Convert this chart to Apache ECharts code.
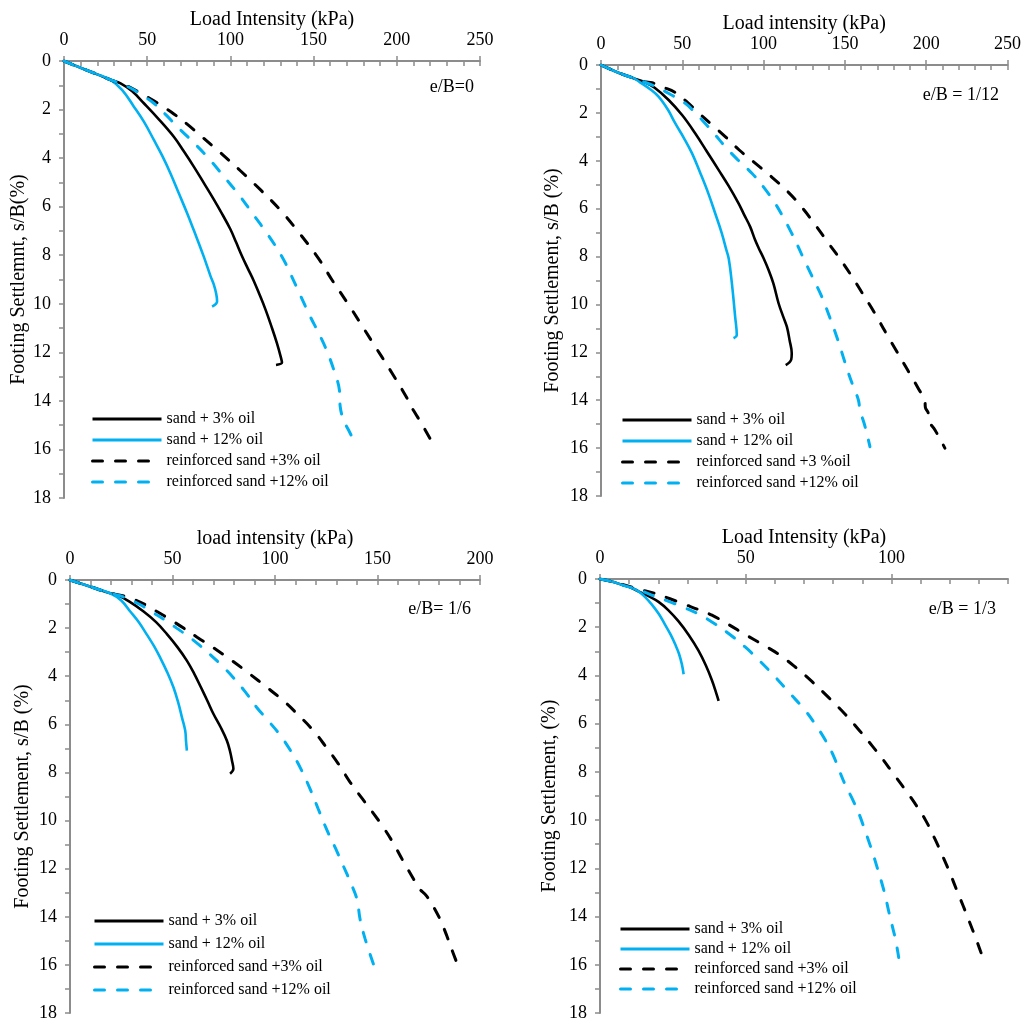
<!DOCTYPE html>
<html>
<head>
<meta charset="utf-8">
<script src="https://cdn.jsdelivr.net/npm/echarts@6/dist/echarts.min.js"></script>
<style>
  html, body { margin: 0; padding: 0; background: #ffffff; }
  #chart { width: 1024px; height: 1022px; }
</style>
</head>
<body>
<div id="chart"></div>
<script>
// Load–settlement curves of a strip footing on oil‑contaminated sand,
// four load eccentricities (e/B), unreinforced vs. reinforced.

const SERIF = '"Liberation Serif", "Times New Roman", serif';
const BLACK = '#000000';
const BLUE = '#00B0F0';
const AXIS_GREY = '#8C8C8C';

// ---- tick labels ----
const settlementTicks = [0, 2, 4, 6, 8, 10, 12, 14, 16, 18];
const loadTicks250 = [0, 50, 100, 150, 200, 250];
const loadTicks200 = [0, 50, 100, 150, 200];
const loadTicks140 = [0, 50, 100];

// ---- series names ----
const NAME_S3 = 'sand + 3% oil';
const NAME_S12 = 'sand + 12% oil';
const NAME_R3 = 'reinforced sand +3% oil';
const NAME_R3b = 'reinforced sand +3 %oil';
const NAME_R12 = 'reinforced sand +12% oil';

// ---- data: [load intensity (kPa), settlement s/B (%)] ----
// e/B = 0
const e0Sand3 = [[0,0],[10,0.28],[20,0.55],[28,0.78],[34,0.92],[41,1.25],[48,1.74],[57,2.4],[66,3.12],[72,3.72],[78,4.35],[84,5.02],[90,5.7],[95,6.3],[100,6.93],[103.5,7.48],[107,8.04],[110.5,8.55],[114,9.05],[117.5,9.62],[121,10.22],[124.5,10.9],[128,11.63],[130.5,12.25],[131,12.42],[127.4,12.52]];
const e0Sand12 = [[0,0],[10,0.28],[20,0.55],[28,0.78],[35,1.2],[42,1.88],[48,2.5],[54,3.25],[59,3.9],[64,4.63],[69,5.45],[74,6.27],[79,7.15],[84,8.06],[88,8.85],[90,9.2],[91.5,9.6],[92,9.91],[89,10.12]];
const e0Reinf3 = [[0,0],[10,0.28],[20,0.55],[28,0.78],[34,0.93],[40,1.1],[47,1.36],[54,1.64],[60,1.9],[66,2.18],[74,2.6],[82,3.07],[94,3.78],[106,4.52],[118,5.3],[130,6.14],[141,7.05],[152.7,8.11],[161.1,9.02],[171.9,10.13],[184.5,11.49],[197.1,12.85],[206.1,13.88],[207.5,14.1],[211,14.5],[215,14.95],[221,15.68]];
const e0Reinf12 = [[0,0],[10,0.28],[20,0.55],[28,0.78],[35,0.95],[42,1.19],[48,1.45],[54,1.74],[61,2.2],[68,2.7],[77,3.3],[86,3.94],[96,4.75],[106,5.59],[114,6.35],[122,7.1],[131,8.06],[136,8.75],[142,9.65],[148,10.53],[153,11.2],[158,11.95],[162.5,12.8],[165.5,13.55],[166,14.24],[168,14.79],[171,15.2],[174,15.61]];

// e/B = 1/12
const e12Sand3 = [[0,0],[10,0.3],[20,0.55],[27,0.72],[33,0.95],[41.6,1.46],[50,2.1],[57.9,2.85],[65,3.6],[72.3,4.38],[78.5,5.05],[84.6,5.78],[88,6.25],[91.7,6.75],[94.8,7.31],[97,7.65],[100,8.07],[103,8.55],[106,9.12],[109.2,9.95],[112,10.5],[114.3,10.93],[116,11.5],[117.3,12.04],[117,12.3],[113.6,12.53]];
const e12Sand12 = [[0,0],[10,0.3],[20,0.55],[25,0.77],[30,1.0],[35.4,1.32],[41,1.85],[45.7,2.44],[51,3.05],[56,3.69],[61,4.5],[66,5.36],[70,6.15],[74.3,7.03],[77,7.7],[78.6,8.1],[80.5,9.12],[82.5,10.51],[83.5,11.28],[81.5,11.41]];
const e12Reinf3 = [[0,0],[10,0.3],[20,0.55],[27,0.7],[31.3,0.74],[38,0.92],[45.7,1.15],[53,1.55],[60,2.0],[68,2.48],[76.4,2.99],[85,3.55],[94.8,4.1],[105,4.68],[115.3,5.32],[124,5.98],[132,6.7],[140,7.45],[147,8.1],[154,8.8],[160,9.45],[166,10.1],[171,10.68],[176,11.28],[181,11.86],[186,12.44],[191,13.02],[195.5,13.55],[199.2,14.0],[199.5,14.3],[201.3,14.54],[202,14.9],[205.4,15.24],[211.5,16.0]];
const e12Reinf12 = [[0,0],[10,0.3],[20,0.55],[27,0.72],[33.4,0.9],[42,1.2],[51.8,1.6],[58,2.0],[64.1,2.44],[70,2.9],[76.4,3.41],[84,3.95],[92.8,4.52],[100,5.1],[107.1,5.78],[112,6.35],[117.3,7.03],[121,7.55],[124.5,8.07],[130,8.85],[135.8,9.68],[141,10.6],[146,11.55],[149,12.2],[152.2,12.87],[155,13.4],[158.3,13.99],[159.3,14.41],[162.4,15.1],[165.4,15.94]];

// e/B = 1/6
const e6Sand3 = [[0,0],[10,0.28],[19.6,0.55],[22.9,0.62],[29,0.9],[35.9,1.31],[42,1.75],[47.3,2.25],[52.5,2.8],[57,3.35],[60.5,3.88],[63.8,4.45],[67,5.02],[70,5.57],[73.5,6.12],[76.5,6.67],[78,7.1],[79,7.5],[79.7,7.85],[78.1,8.05]];
const e6Sand12 = [[0,0],[10,0.28],[19.6,0.55],[25,0.85],[29.4,1.31],[33.5,1.75],[37.5,2.27],[41,2.75],[44,3.23],[47.5,3.85],[50.5,4.47],[52.8,5.1],[54.6,5.71],[56.2,6.26],[56.6,6.7],[57,7.09]];
const e6Reinf3 = [[0,0],[10,0.28],[19.6,0.55],[25,0.64],[31,0.8],[37,1.04],[42.4,1.31],[49,1.65],[55.4,2.0],[62,2.38],[70,2.82],[79,3.35],[87.9,3.92],[96,4.46],[104.1,5.02],[111.5,5.62],[118.7,6.26],[125,6.95],[130.9,7.64],[136.6,8.4],[142.5,9.08],[148,9.7],[153,10.3],[157.7,10.94],[162.5,11.68],[167.5,12.42],[170,12.8],[174,13.14],[178.9,13.83],[181.5,14.3],[183.8,14.79],[186.2,15.35],[188.6,15.89]];
const e6Reinf12 = [[0,0],[10,0.28],[19.6,0.55],[26,0.7],[34.3,1.03],[41,1.38],[47.3,1.72],[52,2.0],[57,2.3],[63,2.7],[68.4,3.1],[74,3.55],[79.7,4.06],[85.5,4.65],[91.1,5.3],[97,5.88],[102.5,6.45],[107.5,7.08],[112.3,7.8],[117.1,8.68],[121,9.5],[125.3,10.39],[129.5,11.15],[133.4,11.9],[137,12.6],[140,13.28],[141.5,14.1],[144,14.93],[148,15.96]];

// e/B = 1/3
const e3Sand3 = [[0,0],[4,0.1],[7.5,0.24],[10.5,0.35],[13.2,0.51],[16.5,0.7],[20.1,0.95],[23.5,1.3],[26.9,1.75],[30.5,2.33],[33.8,2.97],[36.3,3.58],[38.4,4.2],[39.8,4.7],[40.7,5.05]];
const e3Sand12 = [[0,0],[4,0.1],[7.5,0.24],[10.5,0.35],[13.2,0.51],[15.5,0.75],[17.8,1.06],[20.2,1.45],[22.3,1.89],[24.2,2.3],[25.8,2.71],[27.1,3.1],[28.1,3.54],[28.7,3.95]];
const e3Reinf3 = [[0,0],[4,0.1],[7.5,0.22],[13.2,0.42],[18.9,0.6],[24,0.82],[29.2,1.06],[33.8,1.27],[38.4,1.5],[44,1.88],[49.8,2.3],[55.5,2.7],[61.3,3.12],[67,3.65],[72.7,4.25],[78.5,4.92],[84.2,5.62],[89,6.28],[93.4,6.92],[97,7.47],[100.2,8.0],[104.5,8.7],[108.3,9.35],[111.7,10.0],[114.8,10.75],[117.6,11.5],[120.1,12.2],[122.4,12.9],[124.6,13.55],[126.7,14.2],[128.8,14.85],[130.6,15.45],[132.3,16.0]];
const e3Reinf12 = [[0,0],[4,0.1],[7.5,0.24],[13.2,0.45],[18.9,0.72],[24,0.95],[29.2,1.2],[33.8,1.45],[38.4,1.78],[44,2.25],[49.8,2.82],[55,3.42],[60.1,4.06],[65,4.72],[70.4,5.45],[74,6.05],[77.3,6.68],[80,7.3],[82.1,7.94],[84.2,8.55],[86.5,9.1],[88.8,9.72],[91,10.45],[93.4,11.3],[95.2,12.0],[96.8,12.65],[98,13.2],[99.1,13.8],[100.3,14.4],[101.4,14.95],[102.5,15.7]];

// ---- panel layout ----
const panels = [
  {
    grid: { left: 64, top: 61, width: 416, height: 437 },
    xMax: 250, xTicks: loadTicks250,
    xName: 'Load Intensity (kPa)', yName: 'Footing Settlemnt, s/B(%)', yGap: 28,
    note: 'e/B=0', noteX: 474, noteY: 87,
    legend: { left: 91, top: 411, gap: 5 },
    lines: [[NAME_S3, e0Sand3, BLACK, false], [NAME_S12, e0Sand12, BLUE, false],
            [NAME_R3, e0Reinf3, BLACK, true], [NAME_R12, e0Reinf12, BLUE, true]]
  },
  {
    grid: { left: 601, top: 65, width: 407, height: 431 },
    xMax: 250, xTicks: loadTicks250,
    xName: 'Load intensity (kPa)', yName: 'Footing Settlement, s/B (%)', yGap: 38,
    note: 'e/B = 1/12', noteX: 999, noteY: 95,
    legend: { left: 621, top: 412, gap: 5 },
    lines: [[NAME_S3, e12Sand3, BLACK, false], [NAME_S12, e12Sand12, BLUE, false],
            [NAME_R3b, e12Reinf3, BLACK, true], [NAME_R12, e12Reinf12, BLUE, true]]
  },
  {
    grid: { left: 70, top: 580, width: 410, height: 436 },
    xMax: 200, xTicks: loadTicks200,
    xName: 'load intensity (kPa)', yName: 'Footing Settlement, s/B (%)', yGap: 37,
    note: 'e/B= 1/6', noteX: 471, noteY: 609,
    legend: { left: 93, top: 913, gap: 7 },
    lines: [[NAME_S3, e6Sand3, BLACK, false], [NAME_S12, e6Sand12, BLUE, false],
            [NAME_R3, e6Reinf3, BLACK, true], [NAME_R12, e6Reinf12, BLUE, true]]
  },
  {
    grid: { left: 600, top: 579, width: 408, height: 437 },
    xMax: 140, xTicks: loadTicks140,
    xName: 'Load Intensity (kPa)', yName: 'Footing Settlement, (%)', yGap: 40,
    note: 'e/B = 1/3', noteX: 996, noteY: 609,
    legend: { left: 619, top: 921, gap: 4 },
    lines: [[NAME_S3, e3Sand3, BLACK, false], [NAME_S12, e3Sand12, BLUE, false],
            [NAME_R3, e3Reinf3, BLACK, true], [NAME_R12, e3Reinf12, BLUE, true]]
  }
];

const option = {
  animation: false,
  backgroundColor: '#ffffff',
  textStyle: { fontFamily: SERIF },
  grid: [], xAxis: [], yAxis: [], series: [], legend: [], graphic: []
};

panels.forEach((p, i) => {
  option.grid.push(Object.assign({ containLabel: false }, p.grid));

  // main load axis (labels, outward major ticks)
  option.xAxis.push({
    type: 'value', gridIndex: i, position: 'top', min: 0, max: p.xMax,
    name: p.xName, nameLocation: 'middle', nameGap: 30,
    nameTextStyle: { fontFamily: SERIF, fontSize: 20, color: '#000' },
    axisLine: { show: true, lineStyle: { color: AXIS_GREY, width: 2 } },
    axisTick: { show: true, inside: false, length: 5, customValues: p.xTicks,
                lineStyle: { color: AXIS_GREY, width: 1.5 } },
    axisLabel: { show: true, customValues: p.xTicks, margin: 12,
                 fontFamily: SERIF, fontSize: 18, color: '#000' },
    splitLine: { show: false }
  });
  // minor load ticks every 10 kPa, pointing into the plot
  option.xAxis.push({
    type: 'value', gridIndex: i, position: 'top', min: 0, max: p.xMax, interval: 10,
    axisLine: { show: false }, axisLabel: { show: false }, splitLine: { show: false },
    axisTick: { show: true, inside: true, length: 5, lineStyle: { color: AXIS_GREY, width: 1.5 } }
  });

  // settlement axis, increasing downward
  option.yAxis.push({
    type: 'value', gridIndex: i, inverse: true, min: 0, max: 18,
    name: p.yName, nameLocation: 'middle', nameGap: p.yGap, nameRotate: 90,
    nameTextStyle: { fontFamily: SERIF, fontSize: 20, color: '#000' },
    axisLine: { show: true, lineStyle: { color: AXIS_GREY, width: 2 } },
    axisTick: { show: true, inside: false, length: 5, customValues: settlementTicks,
                lineStyle: { color: AXIS_GREY, width: 1.5 } },
    axisLabel: { show: true, customValues: settlementTicks, margin: 13,
                 fontFamily: SERIF, fontSize: 18, color: '#000' },
    splitLine: { show: false }
  });
  option.yAxis.push({
    type: 'value', gridIndex: i, inverse: true, min: 0, max: 18, interval: 1,
    axisLine: { show: false }, axisLabel: { show: false }, splitLine: { show: false },
    axisTick: { show: true, inside: true, length: 5, lineStyle: { color: AXIS_GREY, width: 1.5 } }
  });

  p.lines.forEach(([name, data, color, dashed]) => {
    option.series.push({
      type: 'line', name: name, data: data,
      xAxisIndex: 2 * i, yAxisIndex: 2 * i,
      symbol: 'none', showSymbol: false, smooth: 0.4,
      lineStyle: dashed
        ? { color: color, width: 3, type: [10, 13], cap: 'round' }
        : { color: color, width: 2.6, type: 'solid', cap: 'butt' },
      itemStyle: { color: color },
      z: dashed ? 3 : 2
    });
  });

  option.legend.push({
    orient: 'vertical', left: p.legend.left, top: p.legend.top, padding: 0,
    itemWidth: 69, itemHeight: 14, itemGap: p.legend.gap,
    selectedMode: false,
    itemStyle: { opacity: 0 },
    lineStyle: { width: 3 },
    data: p.lines.map(l => l[0]),
    textStyle: { fontFamily: SERIF, fontSize: 16, color: '#000' }
  });

  option.graphic.push({
    type: 'text', x: p.noteX, y: p.noteY,
    style: { text: p.note, fill: '#000', font: '18px ' + SERIF,
             textAlign: 'right', textVerticalAlign: 'middle' }
  });
});

const chart = echarts.init(document.getElementById('chart'), null, { renderer: 'canvas' });
chart.setOption(option);
</script>
</body>
</html>
